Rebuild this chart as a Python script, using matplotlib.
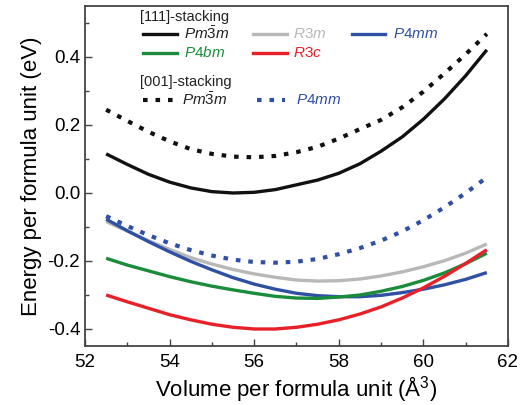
import numpy as np
import matplotlib.pyplot as plt
from matplotlib.ticker import MultipleLocator

plt.rcParams['font.family'] = ['Liberation Sans', 'DejaVu Sans']
plt.rcParams['mathtext.fontset'] = 'custom'
plt.rcParams['mathtext.rm'] = 'Liberation Sans'
plt.rcParams['mathtext.it'] = 'Liberation Sans:italic'
plt.rcParams['axes.unicode_minus'] = False

# Volume grid (A^3 per formula unit)
volume = [52.5, 53.0, 53.5, 54.0, 54.5, 55.0, 55.5, 56.0, 56.5, 57.0,
          57.5, 58.0, 58.5, 59.0, 59.5, 60.0, 60.5, 61.0, 61.5]

# [111]-stacking, energies in eV
e111_pm3m = [0.115, 0.084, 0.055, 0.032, 0.015, 0.004, 0.000, 0.002, 0.010, 0.024,
             0.038, 0.058, 0.086, 0.123, 0.165, 0.217, 0.277, 0.345, 0.421]
e111_r3m = [-0.084, -0.112, -0.140, -0.166, -0.190, -0.209, -0.225, -0.238, -0.248, -0.256,
            -0.259, -0.258, -0.253, -0.244, -0.232, -0.217, -0.199, -0.177, -0.150]
e111_p4mm = [-0.077, -0.111, -0.143, -0.173, -0.201, -0.226, -0.249, -0.268, -0.283, -0.295,
             -0.302, -0.305, -0.305, -0.301, -0.293, -0.283, -0.270, -0.254, -0.234]
e111_p4bm = [-0.192, -0.212, -0.229, -0.246, -0.261, -0.274, -0.285, -0.295, -0.304, -0.309,
             -0.310, -0.306, -0.300, -0.289, -0.275, -0.257, -0.235, -0.208, -0.177]
e111_r3c = [-0.300, -0.320, -0.339, -0.358, -0.373, -0.386, -0.395, -0.400, -0.400, -0.395,
            -0.386, -0.373, -0.356, -0.335, -0.309, -0.279, -0.245, -0.207, -0.167]

# [001]-stacking
e001_pm3m = [0.245, 0.212, 0.180, 0.152, 0.129, 0.115, 0.107, 0.105, 0.109, 0.120,
             0.136, 0.160, 0.188, 0.215, 0.252, 0.298, 0.352, 0.408, 0.468]
e001_p4mm = [-0.068, -0.097, -0.124, -0.148, -0.168, -0.184, -0.196, -0.203, -0.205, -0.202,
             -0.194, -0.180, -0.162, -0.140, -0.113, -0.080, -0.042, 0.000, 0.046]

BLACK = "#111111"
GRAY = "#b8b8b8"
BLUE = "#3050a4"
GREEN = "#1b8c3c"
RED = "#e82028"
dots = (0, (1.1, 1.9))

solid = [
    (e111_pm3m, BLACK, r"$Pm\bar{3}m$"),
    (e111_r3m, GRAY, r"$R3m$"),
    (e111_p4mm, BLUE, r"$P4mm$"),
    (e111_p4bm, GREEN, r"$P4bm$"),
    (e111_r3c, RED, r"$R3c$"),
]
dotted = [
    (e001_pm3m, BLACK, r"$Pm\bar{3}m$"),
    (e001_p4mm, BLUE, r"$P4mm$"),
]

fig = plt.figure(figsize=(5.23, 4.05), dpi=100)
ax = fig.add_axes([0.1625, 0.1457, 0.8088, 0.8395])

for e, c, _ in solid:
    ax.plot(volume, e, color=c, lw=2.4, solid_capstyle='butt')
for e, c, _ in dotted:
    ax.plot(volume, e, color=c, lw=3.0, linestyle=dots)

ax.set_xlim(52, 62)
ax.set_ylim(-0.45, 0.55)
ax.xaxis.set_major_locator(MultipleLocator(2))
ax.xaxis.set_minor_locator(MultipleLocator(1))
ax.yaxis.set_major_locator(MultipleLocator(0.2))
ax.yaxis.set_minor_locator(MultipleLocator(0.1))
ax.yaxis.set_major_formatter(plt.FuncFormatter(lambda v, p: f"{v:.1f}" if abs(v) < 0.45 else ""))
ax.tick_params(which='both', direction='in', top=False, right=False,
               color='#444444', width=1.0, labelsize=13.5)
ax.tick_params(which='major', length=5)
ax.tick_params(which='minor', length=3)
ax.tick_params(axis='x', pad=6)
for s in ax.spines.values():
    s.set_color('#444444')
    s.set_linewidth(1.3)

ax.set_xlabel(r"Volume per formula unit (Å$^{3}$)", fontsize=16, labelpad=2)
ax.set_ylabel("Energy per formula unit (eV)", fontsize=16, labelpad=4)


# legend drawn by hand, positions in pixel units of the reference
def px(x, y):
    return (x - 85) / 423.0, (346 - y) / 340.0


def handle(x0, x1, y, color, style, lw):
    a, b = px(x0, y)
    c, _ = px(x1, y)
    ax.plot([a, c], [b, b], color=color, linestyle=style, lw=lw,
            transform=ax.transAxes, clip_on=False)


ax.text(*px(140, 17), "[111]-stacking", transform=ax.transAxes,
        fontsize=10.5, va='center', ha='left', color='#222222')
rows = [(143, 177, 184, 34), (253, 287, 293, 34), (352, 385, 393, 34),
        (143, 177, 184, 53), (253, 287, 293, 53)]
for (e, c, lab), (x0, x1, tx, y) in zip(solid, rows):
    handle(x0, x1, y, c, '-', 2.4)
    ax.text(*px(tx, y), lab, transform=ax.transAxes, fontsize=11,
            va='center', ha='left', color=(c if c != BLACK else '#222222'))

ax.text(*px(140, 82), "[001]-stacking", transform=ax.transAxes,
        fontsize=10.5, va='center', ha='left', color='#222222')
rows2 = [(143, 175, 182, 100), (257, 285, 296, 100)]
for (e, c, lab), (x0, x1, tx, y) in zip(dotted, rows2):
    handle(x0, x1, y, c, dots, 3.0)
    ax.text(*px(tx, y), lab, transform=ax.transAxes, fontsize=11,
            va='center', ha='left', color=(c if c != BLACK else '#222222'))

fig.savefig("out.png", dpi=100)
